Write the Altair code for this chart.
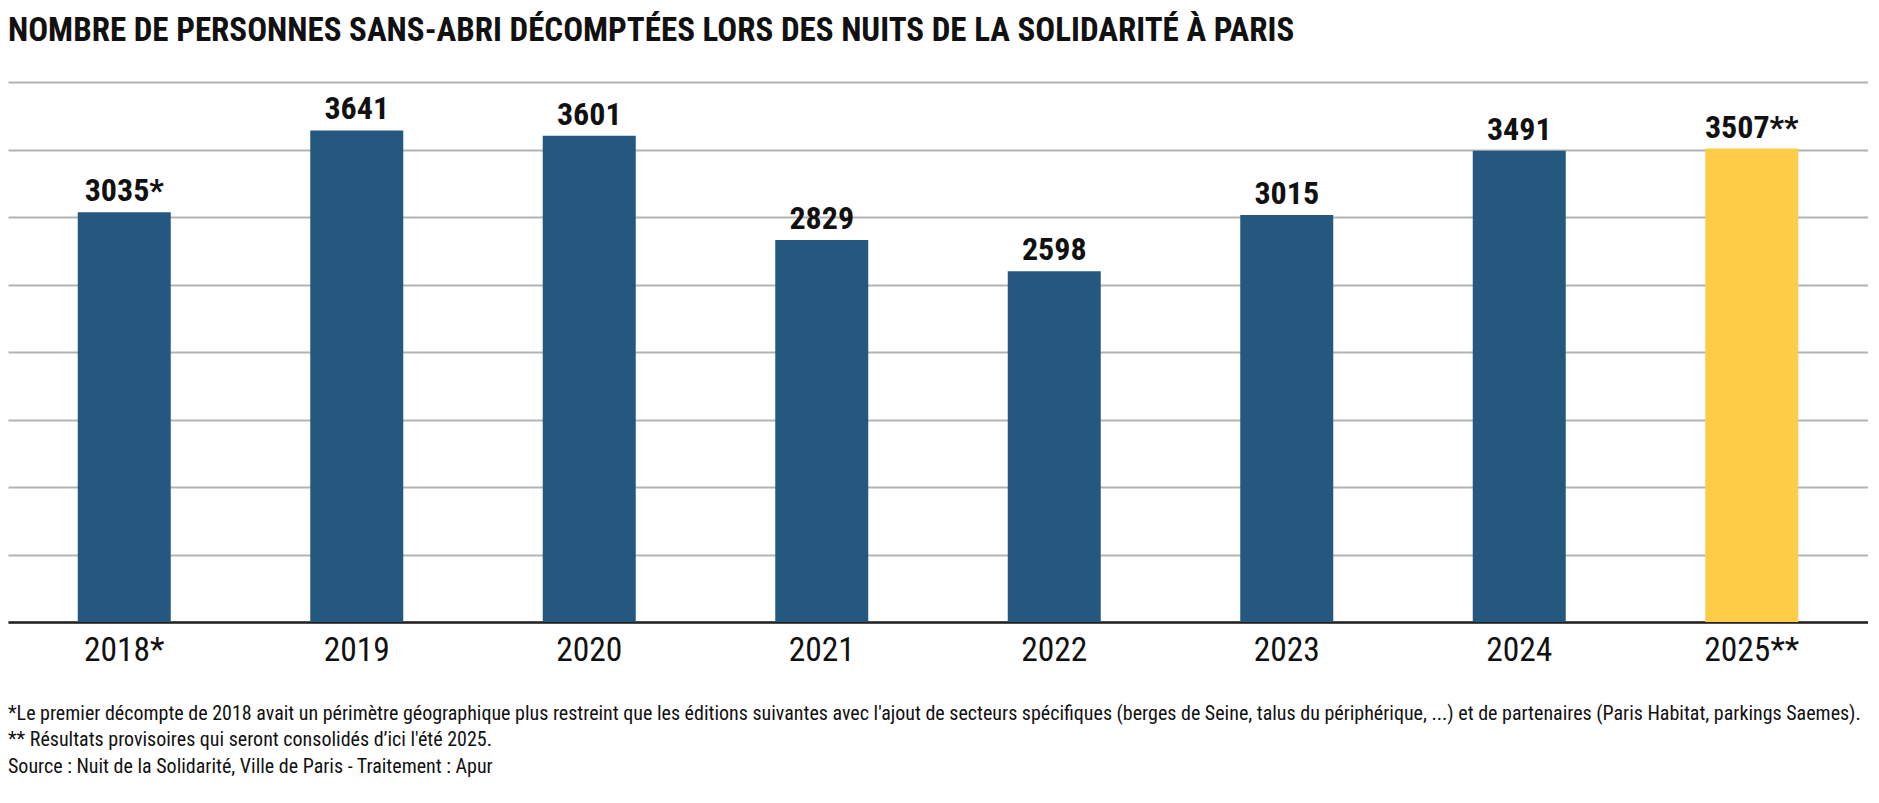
import altair as alt
import pandas as pd

years = ["2018*", "2019", "2020", "2021", "2022", "2023", "2024", "2025**"]
counts = [3035, 3641, 3601, 2829, 2598, 3015, 3491, 3507]
value_marks = ["*", "", "", "", "", "", "", "**"]
status = ["définitif", "définitif", "définitif", "définitif", "définitif", "définitif", "définitif", "provisoire"]
grid_values = [0, 500, 1000, 1500, 2000, 2500, 3000, 3500, 4000]

title_text = "NOMBRE DE PERSONNES SANS-ABRI DÉCOMPTÉES LORS DES NUITS DE LA SOLIDARITÉ À PARIS"
notes = [
    "*Le premier décompte de 2018 avait un périmètre géographique plus restreint que les éditions suivantes avec l'ajout de secteurs spécifiques (berges de Seine, talus du périphérique, ...) et de partenaires (Paris Habitat, parkings Saemes).",
    "** Résultats provisoires qui seront consolidés d’ici l'été 2025.",
    "Source : Nuit de la Solidarité, Ville de Paris - Traitement : Apur",
]

FONT = "'Roboto Condensed', 'Liberation Sans Narrow', 'DejaVu Sans Condensed', Roboto, sans-serif"
W, H = 1860, 540

df = pd.DataFrame({
    "year": years,
    "count": counts,
    "status": status,
    "label": [f"{c}{m}" for c, m in zip(counts, value_marks)],
})

x_enc = alt.X(
    "year:N", sort=years,
    scale=alt.Scale(paddingInner=0.6, paddingOuter=0.3),
    axis=alt.Axis(title=None, labelAngle=0, labelFontSize=33.5, labelFont=FONT,
                  labelColor="#111", labelPadding=12, ticks=False,
                  domainColor="#222", domainWidth=2.5, grid=False),
)
y_scale = alt.Scale(domain=[0, 4000], nice=False)

bars = alt.Chart(df).mark_bar().encode(
    x=x_enc,
    y=alt.Y("count:Q", scale=y_scale,
            axis=alt.Axis(title=None, labels=False, ticks=False, domain=False,
                          values=grid_values, gridColor="#b3b3b3", gridWidth=2)),
    color=alt.Color("status:N",
                    scale=alt.Scale(domain=["définitif", "provisoire"],
                                    range=["#24587f", "#fecc47"]),
                    legend=None),
)

labels = alt.Chart(df).mark_text(
    baseline="alphabetic", dy=-11, fontSize=32, fontWeight="bold", font=FONT, color="#111"
).encode(
    x=alt.X("year:N", sort=years),
    y=alt.Y("count:Q", scale=y_scale),
    text="label:N",
)

note_layers = []
for note, yy in zip(notes, [632, 658, 685]):
    note_layers.append(
        alt.Chart(pd.DataFrame({"note": [note]})).mark_text(
            align="left", baseline="middle", fontSize=20, font=FONT, color="#111"
        ).encode(x=alt.value(0), y=alt.value(yy), text="note:N")
    )

chart = alt.layer(bars, labels, *note_layers).properties(
    width=W, height=H,
    title=alt.Title(title_text, anchor="start", fontSize=33, font=FONT,
                    fontWeight="bold", color="#111", offset=34.5),
    padding={"left": 0, "top": 6, "right": 0, "bottom": 5},
).configure_view(stroke=None)

chart.save("out.html", embed_options={"renderer": "svg", "actions": False})
